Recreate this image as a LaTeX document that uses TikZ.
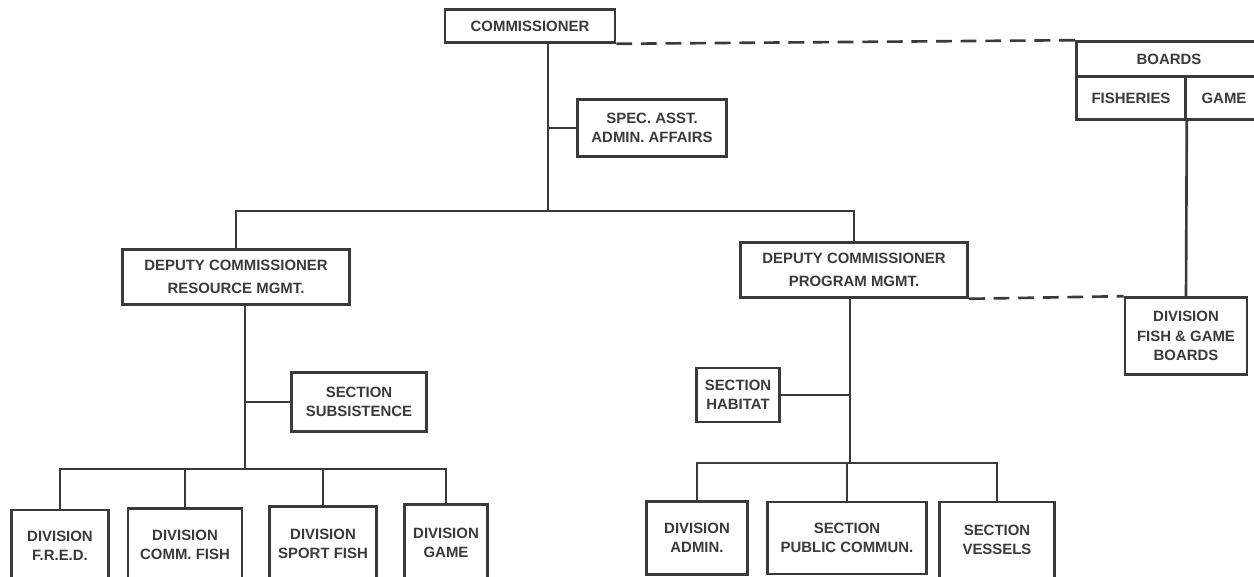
\documentclass[tikz,border=0pt]{standalone}
\usepackage{fontspec}
\setsansfont{Liberation Sans}
\usepackage{tikz}
\usetikzlibrary{positioning}
\definecolor{ink}{HTML}{3A3A3A}

\begin{document}
\begin{tikzpicture}[x=0.02cm, y=-0.02cm, line width=1.5pt, color=ink, office/.style={rectangle, draw, inner sep=0pt, align=center, font=\sffamily\bfseries\fontsize{8.5}{11}\selectfont}, deputy/.style={office, font=\sffamily\bfseries\fontsize{8.5}{13.5}\selectfont, minimum width=4.55cm, minimum height=1.1cm}, link/.style={dash pattern=on 9pt off 5pt}]
  \useasboundingbox (0,0) rectangle (1254,577);
  \clip (0,0) rectangle (1254,577);
  \node[office, minimum width=3.4cm, minimum height=0.66cm] (comm) at (530,26) {COMMISSIONER};
  \node[office, minimum width=2.98cm, minimum height=1.14cm] (spec) at (652,128) {SPEC. ASST.\\ADMIN. AFFAIRS};
  \node[office, minimum width=3.7cm, minimum height=0.7cm] (boards) at (1169,59) {BOARDS};
  \node[office, minimum width=2.18cm, minimum height=0.86cm] (fish) at (1131,98) {FISHERIES};
  \node[office, minimum width=1.52cm, minimum height=0.86cm] (gboard) at (1224,98) {GAME};
  \node[deputy] (res) at (236,277) {DEPUTY COMMISSIONER\\RESOURCE MGMT.};
  \node[deputy] (prog) at (854,270) {DEPUTY COMMISSIONER\\PROGRAM MGMT.};
  \node[office, minimum width=2.44cm, minimum height=1.54cm] (fgb) at (1186,336) {DIVISION\\FISH \& GAME\\BOARDS};
  \node[office, minimum width=2.7cm, minimum height=1.18cm] (subs) at (359,402) {SECTION\\SUBSISTENCE};
  \node[office, minimum width=1.66cm, minimum height=1.08cm] (hab) at (738,395) {SECTION\\HABITAT};
  \node[office, minimum width=1.94cm, minimum height=1.44cm] (fred) at (60,546) {DIVISION\\F.R.E.D.};
  \node[office, minimum width=2.28cm, minimum height=1.46cm] (cfish) at (185,545) {DIVISION\\COMM. FISH};
  \node[office, minimum width=2.14cm, minimum height=1.5cm] (sport) at (323,544) {DIVISION\\SPORT FISH};
  \node[office, minimum width=1.66cm, minimum height=1.54cm] (dgame) at (446,543) {DIVISION\\GAME};
  \node[office, minimum width=2.02cm, minimum height=1.46cm] (admin) at (697,538) {DIVISION\\ADMIN.};
  \node[office, minimum width=3.18cm, minimum height=1.44cm] (pubc) at (847,538) {SECTION\\PUBLIC COMMUN.};
  \node[office, minimum width=2.3cm, minimum height=1.52cm] (vess) at (997,540) {SECTION\\VESSELS};

  \coordinate (hub) at (548,211);
  \coordinate (lhub) at (245,469);
  \coordinate (rhub) at (850,463);
  \draw (comm.south -| hub) -- (hub);
  \draw (spec.west) -- (spec.west -| hub);
  \draw (res.north) |- (hub) -| (prog.north);
  \draw[link] (comm.south east) -- (boards.north west);
  \draw (fish.south east) -- (fgb.north);
  \draw[link] (prog.south east) -- (fgb.north west);
  \draw (res.south -| lhub) -- (lhub);
  \draw (subs.west) -- (subs.west -| lhub);
  \draw (fred.north) |- (lhub) -| (dgame.north);
  \draw (cfish.north) -- (cfish.north |- lhub);
  \draw (sport.north) -- (sport.north |- lhub);
  \draw (prog.south -| rhub) -- (rhub);
  \draw (hab.east) -- (hab.east -| rhub);
  \draw (admin.north) |- (rhub) -| (vess.north);
  \draw (pubc.north) -- (pubc.north |- rhub);
\end{tikzpicture}
\end{document}
